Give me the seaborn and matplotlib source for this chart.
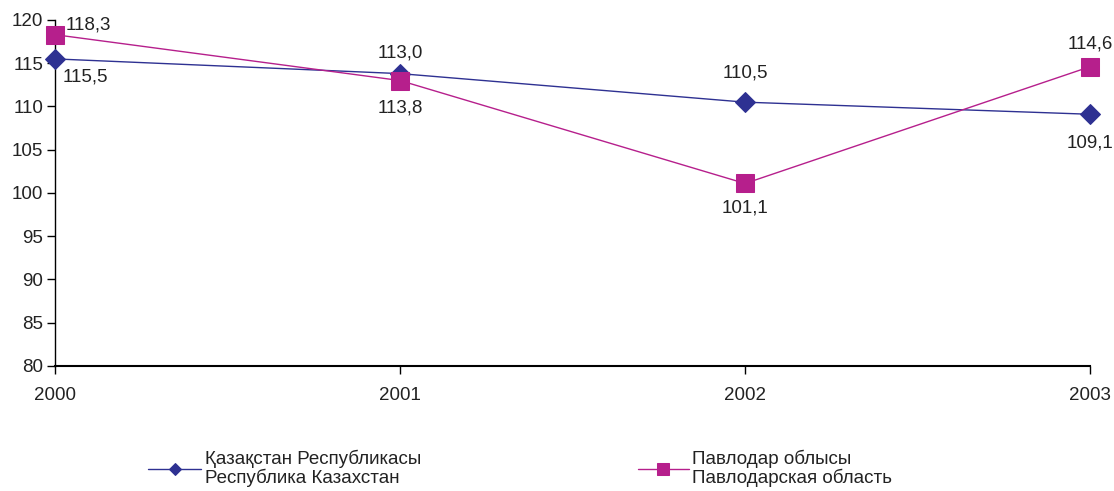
import pandas as pd
import matplotlib
matplotlib.use("Agg")
import matplotlib.pyplot as plt
import seaborn as sns

years = [2000, 2001, 2002, 2003]
kz_values = [115.5, 113.8, 110.5, 109.1]
pv_values = [118.3, 113.0, 101.1, 114.6]
kz_label = "Қазақстан Республикасы\nРеспублика Казахстан"
pv_label = "Павлодар облысы\nПавлодарская область"
y_ticks = [80, 85, 90, 95, 100, 105, 110, 115, 120]

blue = "#2e3192"
pink = "#b61f8c"
fs = 13.5

sns.set_style("white")
plt.rcParams["font.family"] = ["Liberation Sans", "DejaVu Sans"]
plt.rcParams["font.size"] = fs

df = pd.DataFrame({"year": years, "kz": kz_values, "pv": pv_values})

fig = plt.figure(figsize=(11.14, 4.91), dpi=100)
ax = fig.add_axes([0.0494, 0.2546, 0.9291, 0.7047])

sns.lineplot(data=df, x="year", y="kz", ax=ax, color=blue, marker="D",
             markersize=10, markeredgecolor=blue, linewidth=1, legend=False,
             clip_on=False, zorder=3)
sns.lineplot(data=df, x="year", y="pv", ax=ax, color=pink, marker="s",
             markersize=13.5, markeredgecolor=pink, linewidth=1, legend=False,
             clip_on=False, zorder=4)

ax.set_xlim(2000, 2003)
ax.set_ylim(80, 120)
ax.set_yticks(y_ticks)
ax.set_xticks(years)
ax.set_xlabel("")
ax.set_ylabel("")

for s in ["top", "right"]:
    ax.spines[s].set_visible(False)
for s in ["left", "bottom"]:
    ax.spines[s].set_color("black")
    ax.spines[s].set_linewidth(1)
ax.spines["bottom"].set_linewidth(1.5)
ax.tick_params(axis="both", direction="out", length=6, width=1, color="black",
               labelcolor="#222222", labelsize=fs)
ax.tick_params(axis="x", pad=9)
ax.tick_params(axis="y", pad=2.5)
ax.tick_params(left=True, bottom=True)

def fmt(v):
    return f"{v:.1f}".replace(".", ",")

# label offsets in pixels (dx, dy, ha)
kz_offsets = [(8, -18, "left"), (0, -34, "center"), (0, 29, "center"), (0, -29, "center")]
pv_offsets = [(11, 10, "left"), (0, 28, "center"), (0, -25, "center"), (0, 23, "center")]

for x, v, (dx, dy, ha) in zip(years, kz_values, kz_offsets):
    ax.annotate(fmt(v), (x, v), xytext=(dx, dy), textcoords="offset pixels",
                ha=ha, va="center", fontsize=fs, color="#222222",
                annotation_clip=False)
for x, v, (dx, dy, ha) in zip(years, pv_values, pv_offsets):
    ax.annotate(fmt(v), (x, v), xytext=(dx, dy), textcoords="offset pixels",
                ha=ha, va="center", fontsize=fs, color="#222222",
                annotation_clip=False)

h_kz, h_pv = ax.lines[0], ax.lines[1]
leg_kw = dict(loc="upper left", frameon=False, handletextpad=0.2, borderpad=0,
              borderaxespad=0, labelspacing=0, fontsize=fs, markerscale=0.6)
leg1 = fig.legend([h_kz], [kz_label], bbox_to_anchor=(148 / 1114, 1 - 450 / 491),
                  handlelength=2.85, **leg_kw)
leg2 = fig.legend([h_pv], [pv_label], bbox_to_anchor=(638 / 1114, 1 - 450 / 491),
                  handlelength=2.7, **leg_kw)
for leg in (leg1, leg2):
    for t in leg.get_texts():
        t.set_color("#222222")
        t.set_linespacing(1.05)

fig.savefig("out.png", dpi=100)
